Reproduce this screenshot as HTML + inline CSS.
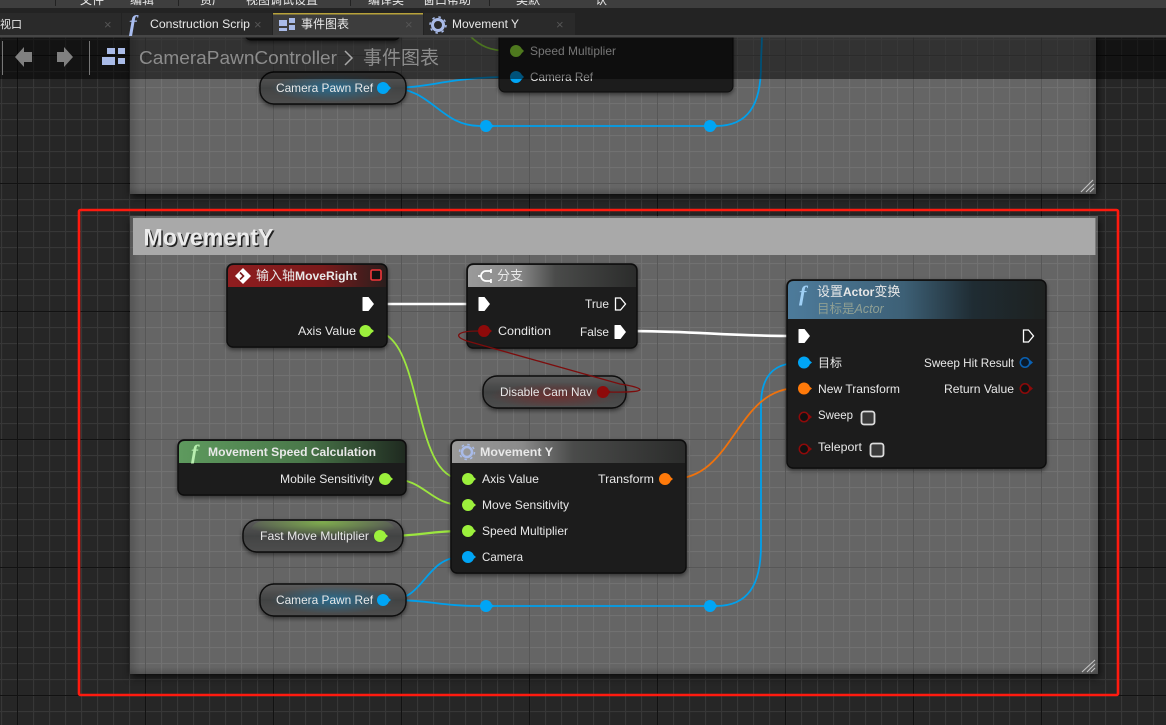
<!DOCTYPE html>
<html><head><meta charset="utf-8">
<style>
html,body{margin:0;padding:0;background:#262626;width:1166px;height:725px;overflow:hidden}
svg{display:block}
text{font-family:"Liberation Sans","Noto Sans CJK SC",sans-serif;font-size:12px;fill:#e8e8e8}
.b{font-weight:bold}
.w{fill:none;stroke-linecap:round}
</style></head><body>
<svg width="1166" height="725" viewBox="0 0 1166 725" xmlns="http://www.w3.org/2000/svg">
<defs>
<pattern id="minor" x="1" y="7" width="16" height="16" patternUnits="userSpaceOnUse"><path d="M0.5 0V16M0 0.5H16" stroke="#373737" stroke-width="1.200" fill="none"/></pattern>
<pattern id="major" x="17" y="55" width="128" height="128" patternUnits="userSpaceOnUse"><path d="M0.5 0V128M0 0.5H128" stroke="#121212" stroke-width="1" fill="none"/></pattern>
<linearGradient id="hR" x1="0" x2="1" y1="0" y2="0"><stop offset="0" stop-color="#8f1d1f"/><stop offset=".6" stop-color="#7a1a1b"/><stop offset="1" stop-color="#2a1e1d"/></linearGradient>
<linearGradient id="hG" x1="0" x2="1" y1="0" y2="0"><stop offset="0" stop-color="#9a9a9a"/><stop offset=".3" stop-color="#8a8a8a"/><stop offset=".52" stop-color="#4a4b4a"/><stop offset="1" stop-color="#2b2c2b"/></linearGradient>
<linearGradient id="hB" x1="0" x2="1" y1="0" y2="0"><stop offset="0" stop-color="#4d7b9b"/><stop offset=".45" stop-color="#3d6076"/><stop offset=".72" stop-color="#1f2c33"/><stop offset="1" stop-color="#1e2120"/></linearGradient>
<linearGradient id="hN" x1="0" x2="1" y1="0" y2="0"><stop offset="0" stop-color="#5e9a5e"/><stop offset=".55" stop-color="#4a784a"/><stop offset="1" stop-color="#1f2a20"/></linearGradient>
<linearGradient id="pillBase" x1="0" x2="0" y1="0" y2="1"><stop offset="0" stop-color="#5c5c5c"/><stop offset=".5" stop-color="#424343"/><stop offset="1" stop-color="#4e4e4e"/></linearGradient>
<radialGradient id="gB" cx=".5" cy=".5" r=".5"><stop offset="0" stop-color="#1e7cae" stop-opacity=".7"/><stop offset="1" stop-color="#1e7cae" stop-opacity="0"/></radialGradient>
<radialGradient id="gR" cx=".5" cy=".6" r=".5"><stop offset="0" stop-color="#8c1d1d" stop-opacity=".55"/><stop offset="1" stop-color="#8c1d1d" stop-opacity="0"/></radialGradient>
<radialGradient id="gN" cx=".5" cy=".05" r=".55"><stop offset="0" stop-color="#8fd04a" stop-opacity=".7"/><stop offset="1" stop-color="#8fd04a" stop-opacity="0"/></radialGradient>
<linearGradient id="edgeL" x1="0" x2="1" y1="0" y2="0"><stop offset="0" stop-color="#000" stop-opacity=".16"/><stop offset="1" stop-color="#000" stop-opacity="0"/></linearGradient>
<linearGradient id="edgeR" x1="1" x2="0" y1="0" y2="0"><stop offset="0" stop-color="#000" stop-opacity=".12"/><stop offset="1" stop-color="#000" stop-opacity="0"/></linearGradient>
<linearGradient id="edgeB" x1="0" x2="0" y1="1" y2="0"><stop offset="0" stop-color="#000" stop-opacity=".18"/><stop offset="1" stop-color="#000" stop-opacity="0"/></linearGradient>
<filter id="sh" x="-10%" y="-10%" width="120%" height="130%"><feDropShadow dx="0" dy="2" stdDeviation="2" flood-color="#000" flood-opacity=".5"/></filter>
<filter id="outer" x="-5%" y="-10%" width="110%" height="120%" color-interpolation-filters="sRGB">
  <feGaussianBlur in="SourceAlpha" stdDeviation="4" result="bl"/>
  <feOffset in="bl" dx="1" dy="3" result="off"/>
  <feFlood flood-color="#000" flood-opacity=".75"/>
  <feComposite in2="off" operator="in" result="col"/>
  <feComposite in="col" in2="SourceAlpha" operator="out"/>
</filter>
<g id="ex"><path d="M-5.5-6.5Q-5.5-7-5-7H0.5L6 0 0.5 7H-5Q-5.5 7-5.5 6.5Z" fill="#fff"/></g>
<g id="exo"><path d="M-4.5-6H0.5L5.5 0 0.5 6H-4.5Z" fill="none" stroke="#fff" stroke-width="1.300"/></g>
<g id="ck"><rect x="-6.500" y="-6.500" width="13" height="13" rx="2.500" fill="#3a3a3a" stroke="#dcdcdc" stroke-width="1.800"/></g>
</defs>

<!-- background grid -->
<rect width="1166" height="725" fill="#262626"/>
<rect width="1166" height="725" fill="url(#minor)"/>
<rect width="1166" height="725" fill="url(#major)"/>

<!-- comment boxes -->
<rect x="130" y="-40" width="966" height="234" fill="#000" filter="url(#outer)"/>
<rect x="130" y="-40" width="966" height="234" fill="#fff" fill-opacity=".295"/>
<rect x="130" y="-40" width="10" height="234" fill="url(#edgeL)"/>
<rect x="1086" y="-40" width="10" height="234" fill="url(#edgeR)"/>
<rect x="130" y="187" width="966" height="7" fill="url(#edgeB)"/>
<rect x="130" y="216" width="968" height="458" fill="#000" filter="url(#outer)"/>
<rect x="130" y="216" width="968" height="458" fill="#fff" fill-opacity=".295"/>
<rect x="130" y="216" width="10" height="458" fill="url(#edgeL)"/>
<rect x="1088" y="216" width="10" height="458" fill="url(#edgeR)"/>
<rect x="130" y="667" width="968" height="7" fill="url(#edgeB)"/>
<rect x="133" y="218" width="962" height="37" fill="#a9a9a9"/>
<path d="M1095.500 218V255" stroke="#7d7d7d"/>
<text x="145" y="247" class="b" style="font-size:24px;fill:#222" textLength="130" lengthAdjust="spacingAndGlyphs">MovementY</text>
<text x="143.500" y="245.500" class="b" style="font-size:24px;fill:#ececec" textLength="130" lengthAdjust="spacingAndGlyphs">MovementY</text>
<g stroke="#c4c4c4" stroke-width="1.100">
<path d="M1081 192L1093 180M1086 192L1094 184M1090 192L1094 188"/>
<path d="M1082 672L1095 660M1087 672L1095 664M1091 672L1095 668"/>
</g>

<!-- red annotation -->
<rect x="79" y="210" width="1039" height="485" rx="1.500" fill="none" stroke="#ff1a0f" stroke-width="2.600"/>

<!-- wires -->
<g class="w" stroke="#00a0ec" stroke-width="1.800">
<path class="w" d="M390 88C430 88 450 77 510 77"/>
<path class="w" d="M390 88C432 88 440 126 480 126"/>
<path class="w" d="M492 126H704"/>
<path class="w" d="M716 126C748 126 761 105 761 65C761 55 762 45 762 30"/>
<path class="w" d="M390 600C425 600 425 557 462 557"/>
<path class="w" d="M390 600C430 600 440 606 480 606"/>
<path class="w" d="M492 606H704"/>
<path class="w" d="M716 606C748 606 761 585 761 545V405C761 378 772 363 798 363"/>
</g>
<circle cx="486" cy="126" r="6" fill="#00a5f5"/><path d="M491 123.500L494 126 491 128.500Z" fill="#00a5f5"/>
<circle cx="710" cy="126" r="6" fill="#00a5f5"/><path d="M715 123.500L718 126 715 128.500Z" fill="#00a5f5"/>
<circle cx="486" cy="606" r="6" fill="#00a5f5"/><path d="M491 603.500L494 606 491 608.500Z" fill="#00a5f5"/>
<circle cx="710" cy="606" r="6" fill="#00a5f5"/><path d="M715 603.500L718 606 715 608.500Z" fill="#00a5f5"/>
<path class="w" d="M470 36C480 46 490 51 510 51" stroke="#97e83f" stroke-width="1.600"/>
<g class="w" stroke="#9ce63f" stroke-width="1.800">
<path class="w" d="M373 331C425 331 410 479 462 479"/>
<path class="w" d="M392 479C425 479 430 505 462 505"/>
<path class="w" d="M387 536C420 536 430 531 462 531" stroke-width="2.200"/>
</g>
<path class="w" d="M672 479C735 479 735 388 798 388" stroke="#f0720c" stroke-width="1.800"/>
<path class="w" d="M374 304H478" stroke="#fff" stroke-width="2.600"/>
<path class="w" d="M627 331C700 331 720 336 798 336" stroke="#fff" stroke-width="2.600"/>

<!-- top partial nodes -->
<g filter="url(#sh)"><rect x="245" y="-20" width="155" height="60" rx="6" fill="#1e1f1e" stroke="#0c0c0c"/></g>
<g filter="url(#sh)"><rect x="499" y="-20" width="234" height="112" rx="6" fill="#1e1f1e" stroke="#0c0c0c"/></g>
<circle cx="516" cy="51" r="6" fill="#9cf03c"/><path d="M521 48L524 51 521 54Z" fill="#9cf03c"/>
<circle cx="516" cy="77" r="6" fill="#00a5f5"/><path d="M521 74L524 77 521 80Z" fill="#00a5f5"/>
<text x="530" y="55" textLength="86" lengthAdjust="spacingAndGlyphs">Speed Multiplier</text>
<text x="530" y="81" textLength="63" lengthAdjust="spacingAndGlyphs">Camera Ref</text>

<!-- top pill -->
<g filter="url(#sh)"><rect x="260" y="72" width="146" height="32" rx="14" fill="url(#pillBase)" stroke="#0c0c0c" stroke-width="1.400"/></g>
<rect x="270" y="74" width="126" height="28" rx="14" fill="url(#gB)"/>
<text x="276" y="92" textLength="97" lengthAdjust="spacingAndGlyphs">Camera Pawn Ref</text>
<circle cx="383" cy="88" r="6" fill="#00a5f5"/><path d="M388 85L391 88 388 91Z" fill="#00a5f5"/>

<!-- overlay bar -->
<rect x="0" y="37" width="1166" height="42" fill="#000" fill-opacity=".5"/>

<!-- top chrome -->
<rect x="0" y="0" width="1166" height="8" fill="#3e3e3e"/>
<rect x="0" y="8" width="1166" height="29" fill="#232323"/>
<g stroke="#222" stroke-width="1"><path d="M55.500 0V6M178.500 0V6M350.500 0V6M489.500 0V6"/></g>
<g style="fill:#ddd">
<text x="80" y="4">文件</text><text x="130" y="4">编辑</text><text x="200" y="4">资产</text><text x="246" y="4">视图调试设置</text><text x="368" y="4">编译类</text><text x="423" y="4">窗口帮助</text><text x="516" y="4">类默</text><text x="595" y="4">认</text>
</g>
<rect x="0" y="13" width="121" height="23" fill="#2a2a2a"/>
<rect x="122" y="13" width="150" height="23" fill="#2a2a2a"/>
<rect x="273" y="13" width="150" height="23" fill="#3d3d3d"/>
<rect x="273" y="13" width="150" height="1.500" fill="#b8a23a"/>
<rect x="424" y="13" width="151" height="23" fill="#2a2a2a"/>
<rect x="0" y="35" width="1166" height="2.500" fill="#464646"/>
<text x="0" y="28" style="font-size:11px">视口</text>
<text x="104" y="29" style="fill:#555;font-size:13px">×</text>
<text x="129" y="31" class="b" style="font-family:'Liberation Serif',serif;font-style:italic;font-size:23px;fill:#a9bdf0">f</text>
<text x="150" y="28" textLength="100" lengthAdjust="spacingAndGlyphs">Construction Scrip</text>
<text x="254" y="29" style="fill:#555;font-size:13px">×</text>
<g fill="#a9bbe8"><rect x="279" y="20" width="8" height="6"/><rect x="289" y="18" width="6" height="5"/><rect x="289" y="25" width="6" height="5"/><rect x="279" y="28" width="8" height="3"/></g>
<text x="301" y="28" style="font-size:12px">事件图表</text>
<text x="405" y="29" style="fill:#555;font-size:13px">×</text>
<circle cx="438" cy="25" r="5.500" fill="none" stroke="#a9bbe8" stroke-width="3"/><circle cx="438" cy="25" r="8" fill="none" stroke="#a9bbe8" stroke-width="1.500" stroke-dasharray="2.500 3.800"/>
<text x="452" y="28" textLength="67" lengthAdjust="spacingAndGlyphs">Movement Y</text>
<text x="556" y="29" style="fill:#555;font-size:13px">×</text>

<!-- breadcrumb -->
<path d="M2.500 41V75M89.500 41V75" stroke="#777" stroke-width="1"/>
<path d="M15 57L24 47V52H32V62H24V67Z" fill="#808080"/>
<path d="M73 57L64 47V52H57V62H64V67Z" fill="#808080"/>
<g fill="#a9bbe8"><rect x="102" y="57" width="13" height="8"/><rect x="107" y="48" width="8" height="6"/><rect x="118" y="48" width="7" height="6"/><rect x="118" y="58" width="7" height="6"/></g>
<text x="139" y="64" style="font-size:18px;fill:#8c8c8c" textLength="198" lengthAdjust="spacingAndGlyphs">CameraPawnController</text>
<path d="M345 51L352 58 345 65" fill="none" stroke="#a8a8a8" stroke-width="1.500"/>
<text x="363" y="64" style="font-size:19px;fill:#8c8c8c">事件图表</text>

<!-- input axis node -->
<g filter="url(#sh)"><rect x="227" y="264" width="160" height="83" rx="6" fill="#1e1f1e" stroke="#0b0b0b" stroke-width="1.400"/></g>
<path d="M228 287V271Q228 265 234 265H380Q386 265 386 271V287Z" fill="url(#hR)"/>
<path d="M243 268L251 276 243 284 235 276Z" fill="#fff"/><path d="M240 272.500L243.500 276 240 279.500" fill="none" stroke="#7a1a1b" stroke-width="1.600"/>
<text x="256" y="280" style="font-size:13px">输入轴</text>
<text x="295" y="280" class="b" textLength="62" lengthAdjust="spacingAndGlyphs">MoveRight</text>
<rect x="371" y="270" width="10" height="10" rx="1.500" fill="#111" stroke="#f0373a" stroke-width="1.600"/>
<use href="#ex" x="368" y="304"/>
<text x="298" y="335" textLength="58" lengthAdjust="spacingAndGlyphs">Axis Value</text>
<circle cx="365.500" cy="331" r="6" fill="#9cf03c"/><path d="M371 328.500L374 331 371 333.500Z" fill="#9cf03c"/>

<!-- branch -->
<g filter="url(#sh)"><rect x="467" y="264" width="170" height="84" rx="6" fill="#1e1f1e" stroke="#0b0b0b" stroke-width="1.400"/></g>
<path d="M468 287V271Q468 265 474 265H630Q636 265 636 271V287Z" fill="url(#hG)"/>
<path d="M491 271H486A5 5 0 0 0 486 281H491M491 269V273M491 279V283M478 276H481" fill="none" stroke="#fff" stroke-width="1.700"/>
<text x="497" y="280" style="font-size:13px">分支</text>
<use href="#ex" x="484" y="304"/>
<circle cx="484" cy="331" r="6" fill="#8e0a0a"/><path d="M489 328.500L492 331 489 333.500Z" fill="#8e0a0a"/>
<text x="498" y="335" textLength="53" lengthAdjust="spacingAndGlyphs">Condition</text>
<text x="585" y="308" textLength="24" lengthAdjust="spacingAndGlyphs">True</text>
<use href="#exo" x="620" y="304"/>
<text x="580" y="336" textLength="29" lengthAdjust="spacingAndGlyphs">False</text>
<use href="#ex" x="620" y="332"/>

<!-- disable cam nav -->
<g filter="url(#sh)"><rect x="483" y="376" width="143" height="32" rx="14" fill="url(#pillBase)" stroke="#0c0c0c" stroke-width="1.400"/></g>
<rect x="490" y="380" width="130" height="26" rx="13" fill="url(#gR)"/>
<text x="500" y="396" textLength="92" lengthAdjust="spacingAndGlyphs">Disable Cam Nav</text>
<circle cx="603" cy="392" r="6" fill="#8e0a0a"/><path d="M608 389.500L611 392 608 394.500Z" fill="#8e0a0a"/>

<!-- red wire on top -->
<path class="w" d="M609 392C660 393 636 386 620 384L467 341C452 336 458 331 478 331" stroke="#7c0c0c" stroke-width="1.300"/>

<!-- set actor transform -->
<g filter="url(#sh)"><rect x="787" y="280" width="259" height="188" rx="6" fill="#1e1f1e" stroke="#0b0b0b" stroke-width="1.400"/></g>
<path d="M788 319V287Q788 281 794 281H1039Q1045 281 1045 287V319Z" fill="url(#hB)"/>
<text x="799" y="301" class="b" style="font-family:'Liberation Serif',serif;font-style:italic;font-size:22px;fill:#9fd0f5">f</text>
<text x="817" y="296" style="font-size:13px">设置<tspan class="b" style="font-size:12px">Actor</tspan>变换</text>
<text x="817" y="313" style="fill:#8f9f93;font-size:12.500px">目标是<tspan style="font-style:italic;fill:#8f9f93">Actor</tspan></text>
<use href="#ex" x="804" y="336"/>
<use href="#exo" x="1028" y="336"/>
<circle cx="804" cy="362.500" r="6" fill="#00a5f5"/><path d="M809 360L812 362.500 809 365Z" fill="#00a5f5"/>
<text x="818" y="367">目标</text>
<circle cx="804" cy="388.500" r="6" fill="#ff7a0a"/><path d="M809 386L812 388.500 809 391Z" fill="#ff7a0a"/>
<text x="818" y="393" textLength="82" lengthAdjust="spacingAndGlyphs">New Transform</text>
<circle cx="804" cy="417" r="4.700" fill="#111" stroke="#8e0a0a" stroke-width="1.500"/><path d="M809 414.500L812 417 809 419.500Z" fill="#8e0a0a"/>
<text x="818" y="419" textLength="35" lengthAdjust="spacingAndGlyphs">Sweep</text>
<use href="#ck" x="868" y="418"/>
<circle cx="804" cy="449" r="4.700" fill="#111" stroke="#8e0a0a" stroke-width="1.500"/><path d="M809 446.500L812 449 809 451.500Z" fill="#8e0a0a"/>
<text x="818" y="451" textLength="44" lengthAdjust="spacingAndGlyphs">Teleport</text>
<use href="#ck" x="877" y="450"/>
<text x="924" y="367" textLength="90" lengthAdjust="spacingAndGlyphs">Sweep Hit Result</text>
<circle cx="1025" cy="362.500" r="4.700" fill="#0b1a2a" stroke="#0a62b5" stroke-width="1.500"/><path d="M1030 360L1033 362.500 1030 365Z" fill="#0a62b5"/>
<text x="944" y="393" textLength="70" lengthAdjust="spacingAndGlyphs">Return Value</text>
<circle cx="1025" cy="388.500" r="4.700" fill="#111" stroke="#8e0a0a" stroke-width="1.500"/><path d="M1030 386L1033 388.500 1030 391Z" fill="#8e0a0a"/>

<!-- movement speed calc -->
<g filter="url(#sh)"><rect x="178" y="440" width="228" height="55" rx="6" fill="#1e1f1e" stroke="#0b0b0b" stroke-width="1.400"/></g>
<path d="M179 463V447Q179 441 185 441H399Q405 441 405 447V463Z" fill="url(#hN)"/>
<text x="191" y="459" class="b" style="font-family:'Liberation Serif',serif;font-style:italic;font-size:21px;fill:#b9efb0">f</text>
<text x="208" y="456" class="b" textLength="168" lengthAdjust="spacingAndGlyphs">Movement Speed Calculation</text>
<text x="280" y="483" textLength="94" lengthAdjust="spacingAndGlyphs">Mobile Sensitivity</text>
<circle cx="385" cy="479" r="6" fill="#9cf03c"/><path d="M390 476.500L393 479 390 481.500Z" fill="#9cf03c"/>

<!-- movement y -->
<g filter="url(#sh)"><rect x="451" y="440" width="235" height="133" rx="6" fill="#1e1f1e" stroke="#0b0b0b" stroke-width="1.400"/></g>
<path d="M452 463V447Q452 441 458 441H679Q685 441 685 447V463Z" fill="url(#hG)"/>
<circle cx="467" cy="452" r="5" fill="none" stroke="#a9bbe8" stroke-width="2.500"/><circle cx="467" cy="452" r="7.500" fill="none" stroke="#a9bbe8" stroke-width="1.500" stroke-dasharray="2.500 3.400"/>
<text x="480" y="456" class="b" textLength="73" lengthAdjust="spacingAndGlyphs">Movement Y</text>
<circle cx="468" cy="479" r="6" fill="#9cf03c"/><path d="M473 476.500L476 479 473 481.500Z" fill="#9cf03c"/>
<text x="482" y="483" textLength="57" lengthAdjust="spacingAndGlyphs">Axis Value</text>
<circle cx="468" cy="505" r="6" fill="#9cf03c"/><path d="M473 502.500L476 505 473 507.500Z" fill="#9cf03c"/>
<text x="482" y="509" textLength="87" lengthAdjust="spacingAndGlyphs">Move Sensitivity</text>
<circle cx="468" cy="531" r="6" fill="#9cf03c"/><path d="M473 528.500L476 531 473 533.500Z" fill="#9cf03c"/>
<text x="482" y="535" textLength="86" lengthAdjust="spacingAndGlyphs">Speed Multiplier</text>
<circle cx="468" cy="557" r="6" fill="#00a5f5"/><path d="M473 554.500L476 557 473 559.500Z" fill="#00a5f5"/>
<text x="482" y="561" textLength="41" lengthAdjust="spacingAndGlyphs">Camera</text>
<text x="598" y="483" textLength="56" lengthAdjust="spacingAndGlyphs">Transform</text>
<circle cx="665" cy="479" r="6" fill="#ff7a0a"/><path d="M670 476.500L673 479 670 481.500Z" fill="#ff7a0a"/>

<!-- fast move pill -->
<g filter="url(#sh)"><rect x="243" y="520" width="160" height="32" rx="14" fill="url(#pillBase)" stroke="#0c0c0c" stroke-width="1.400"/></g>
<rect x="250" y="521" width="146" height="28" rx="13" fill="url(#gN)"/>
<text x="260" y="540" textLength="109" lengthAdjust="spacingAndGlyphs">Fast Move Multiplier</text>
<circle cx="380" cy="536" r="6" fill="#9cf03c"/><path d="M385 533.500L388 536 385 538.500Z" fill="#9cf03c"/>

<!-- camera pawn pill -->
<g filter="url(#sh)"><rect x="260" y="584" width="146" height="32" rx="14" fill="url(#pillBase)" stroke="#0c0c0c" stroke-width="1.400"/></g>
<rect x="270" y="586" width="126" height="28" rx="14" fill="url(#gB)"/>
<text x="276" y="604" textLength="97" lengthAdjust="spacingAndGlyphs">Camera Pawn Ref</text>
<circle cx="383" cy="600" r="6" fill="#00a5f5"/><path d="M388 597.500L391 600 388 602.500Z" fill="#00a5f5"/>
</svg>
</body></html>
